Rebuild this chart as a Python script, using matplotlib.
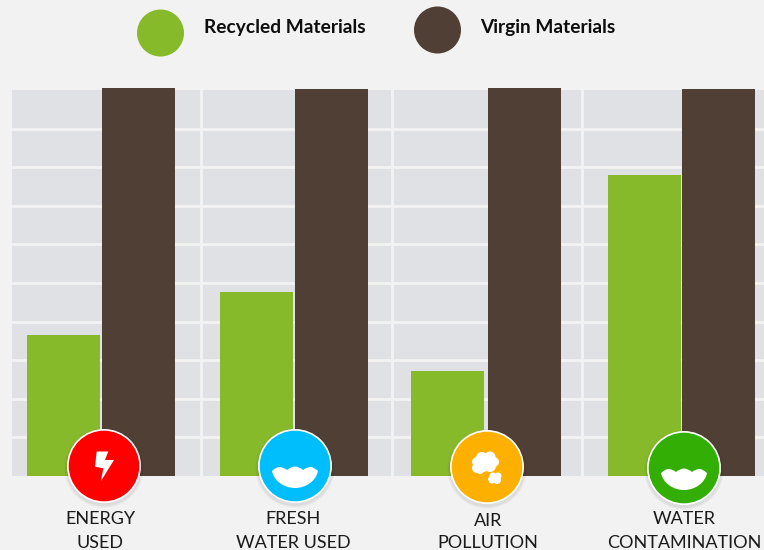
import numpy as np
import matplotlib
matplotlib.use('Agg')
import matplotlib.pyplot as plt
from matplotlib.patches import Circle, PathPatch, Polygon
from matplotlib.path import Path

# Recycled vs virgin materials, virgin = 100 in every category

categories = ['ENERGY\nUSED', 'FRESH\nWATER USED', 'AIR\nPOLLUTION', 'WATER\nCONTAMINATION']
recycled = [36.5, 47.7, 27.2, 78.0]
virgin = [100.5, 100.3, 100.5, 100.3]
badge_colors = ['#fe0000', '#00bdfb', '#fdb000', '#33ae04']

GREEN = '#87ba2b'
BROWN = '#503f34'
BG = '#f2f2f2'
GRID = '#e0e1e5'

# bar centres in figure pixels, the groups are not evenly spaced
recycled_x = [63.5, 256.5, 447.5, 644.5]
virgin_x = [138.5, 331.5, 524.5, 718.5]

fig = plt.figure(figsize=(7.64, 5.5), dpi=100, facecolor=BG)

# plot area: 12..764 px across, 90..476 px down
ax = fig.add_axes([12 / 764, (550 - 476) / 550, 752 / 764, 386 / 550], facecolor=GRID)
ax.bar(recycled_x, recycled, 73, color=GREEN, zorder=3, clip_on=False)
ax.bar(virgin_x, virgin, 73, color=BROWN, zorder=3, clip_on=False)
ax.set_xlim(12, 764)
ax.set_ylim(0, 100)
ax.set_yticks(np.arange(10, 100, 10))
ax.set_xticks([201, 392, 582])
ax.grid(color=BG, linewidth=2.1, zorder=1)
ax.set_axisbelow(True)
ax.tick_params(length=0, labelbottom=False, labelleft=False)
for s in ax.spines.values():
    s.set_visible(False)

# overlay in pixel coordinates for the legend, badges and labels
ov = fig.add_axes([0, 0, 1, 1], facecolor='none')
ov.set_xlim(0, 764)
ov.set_ylim(550, 0)
ov.axis('off')


def wave(cx, cy):
    verts = [(-23, 5)]
    codes = [Path.MOVETO]
    # scallops along the top
    for cp, end in [((-18, 0.5), (-15, 1)), ((-11, 1.5), (-8, 4)), ((-4, 0.5), (0, 0.5)), ((4, 0.5), (8, 4)),
                    ((11, 1.5), (15, 1)), ((18, 0.5), (23, 5))]:
        verts += [cp, end]
        codes += [Path.CURVE3, Path.CURVE3]
    # bowl underneath
    verts += [(21, 15), (11, 22), (0, 22), (-11, 22), (-21, 15), (-23, 5)]
    codes += [Path.CURVE4] * 6
    verts = [(cx + a, cy + b) for a, b in verts]
    ov.add_patch(PathPatch(Path(verts, codes), fc='white', ec='none', zorder=8))


def bolt(cx, cy):
    pts = [(-7.3, -14.5), (4.3, -14.5), (1, -6), (10, -6), (-3, 15), (-0.7, 2.3), (-9, 0.7)]
    ov.add_patch(Polygon([(cx + a, cy + b) for a, b in pts], fc='white', ec='none', zorder=8))


def cloud(cx, cy):
    big = [(-10, -5, 5), (-5, -9, 6), (3, -10, 5.5), (7, -5, 5), (3, -1, 6), (-4, -2, 7), (-10, 1, 5), (-7, 3, 4)]
    small = [(6, 9, 3.5), (11, 9, 3.5), (5, 13, 3.5), (10, 13, 4), (3, 12, 2)]
    for a, b, r in big + small:
        ov.add_patch(Circle((cx + a, cy + b), r, fc='white', ec='none', zorder=8))


# legend
ov.add_patch(Circle((160.5, 33), 23.5, fc=GREEN, ec='none'))
ov.add_patch(Circle((437.5, 30), 23.5, fc=BROWN, ec='none'))
ov.text(203.5, 27.5, 'Recycled Materials', fontsize=13.8, family='Lato', weight='bold', color='#0d0d0d', va='center', ha='left')
ov.text(480, 27.5, 'Virgin Materials', fontsize=13.8, family='Lato', weight='bold', color='#0d0d0d', va='center', ha='left')

# badges
badge_x = [104, 295, 487, 684]
badge_y = [466, 466, 467, 468]
for bx, by, c in zip(badge_x, badge_y, badge_colors):
    for r, a in [(40, 0.02), (39, 0.03), (38, 0.04)]:
        ov.add_patch(Circle((bx, by + 2), r, fc='black', alpha=a, ec='none', zorder=6))
    ov.add_patch(Circle((bx, by), 37, fc='white', ec='none', zorder=7))
    ov.add_patch(Circle((bx, by), 35.3, fc=c, ec='none', zorder=7))
bolt(badge_x[0], badge_y[0])
wave(badge_x[1], badge_y[1])
cloud(badge_x[2], badge_y[2])
wave(badge_x[3], badge_y[3])

# category labels
label_x = [100, 293, 488, 684]
label_y = [519, 519, 520.5, 519]
for lx, ly, name in zip(label_x, label_y, categories):
    first, second = name.split('\n')
    ov.text(lx, ly, first, fontsize=13, family='Lato', color='#1a1a1a', ha='center', va='center')
    ov.text(lx, 542.5, second, fontsize=13, family='Lato', color='#1a1a1a', ha='center', va='center')

plt.savefig('out.png', dpi=100, facecolor=BG)
